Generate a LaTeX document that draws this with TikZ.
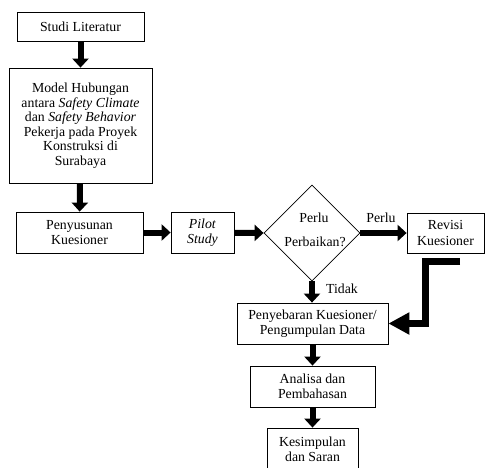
\documentclass[tikz,border=0pt]{standalone}
\usepackage{fontspec}
\setmainfont{Liberation Serif}
\usetikzlibrary{arrows.meta,shapes.geometric}
\begin{document}
\begin{tikzpicture}[x=1pt,y=-1pt,
  box/.style={draw,line width=0.8pt,rectangle,inner sep=0pt,align=center,
    font=\fontsize{13.8}{15.5}\selectfont},
  txt/.style={inner sep=0pt,align=center,font=\fontsize{13.8}{15.5}\selectfont},
  flow/.style={line width=6pt,-{Triangle[width=16pt,length=9pt]}},
  bigflow/.style={line width=7pt,line join=miter,-{Triangle[width=21pt,length=21pt]}}]
\useasboundingbox (0,0) rectangle (485,467);
\clip (0,0) rectangle (485,467);
\node[box,minimum width=127pt,minimum height=29pt] (studi) at (80.5,26.5) {Studi Literatur};
\node[box,minimum width=143pt,minimum height=115pt,font=\fontsize{13.8}{14.5}\selectfont] (model) at (80.5,125.5)
  {Model Hubungan\\antara \textit{Safety Climate}\\dan \textit{Safety Behavior}\\Pekerja pada Proyek\\Konstruksi di\\Surabaya};
\node[box,minimum width=127pt,minimum height=41pt] (pen) at (79.5,232.5) {Penyusunan\\Kuesioner};
\node[box,minimum width=63pt,minimum height=41pt] (pilot) at (202.5,232.5) {\textit{Pilot}\\\textit{Study}};
\node[draw,line width=0.8pt,diamond,aspect=1,inner sep=0pt,minimum width=96pt,minimum height=96pt] (dia) at (312,233) {};
\node[txt] (q1) at (314,218) {Perlu};
\node[txt] (q2) at (315,242) {Perbaikan?};
\node[box,minimum width=77pt,minimum height=40pt] (rev) at (445.5,233) {Revisi\\Kuesioner};
\node[box,minimum width=151pt,minimum height=41pt] (peny) at (312.5,323.5) {Penyebaran Kuesioner/\\Pengumpulan Data};
\node[box,minimum width=125pt,minimum height=41pt] (ana) at (312.5,386.5) {Analisa dan\\Pembahasan};
\node[box,minimum width=91pt,minimum height=50pt,text depth=8pt] (kes) at (312.5,453) {Kesimpulan\\dan Saran};
\node[txt] (lperlu) at (381,218) {Perlu};
\node[txt] (ltidak) at (342,289) {Tidak};
\coordinate (e0) at (460,261);
\draw[flow] (studi) -- (model);
\draw[flow] (model) -- (pen);
\draw[flow] (pen) -- (pilot);
\draw[flow] (pilot) -- (dia.west);
\draw[flow] (dia.east) -- (rev.west |- dia.east);
\draw[flow] (dia.south) -- (dia.south |- peny.north);
\draw[flow] (peny) -- (ana);
\draw[flow] (ana) -- (kes);
\draw[bigflow] (e0) -- (425.5,261) |- (peny.east);
\end{tikzpicture}
\end{document}
